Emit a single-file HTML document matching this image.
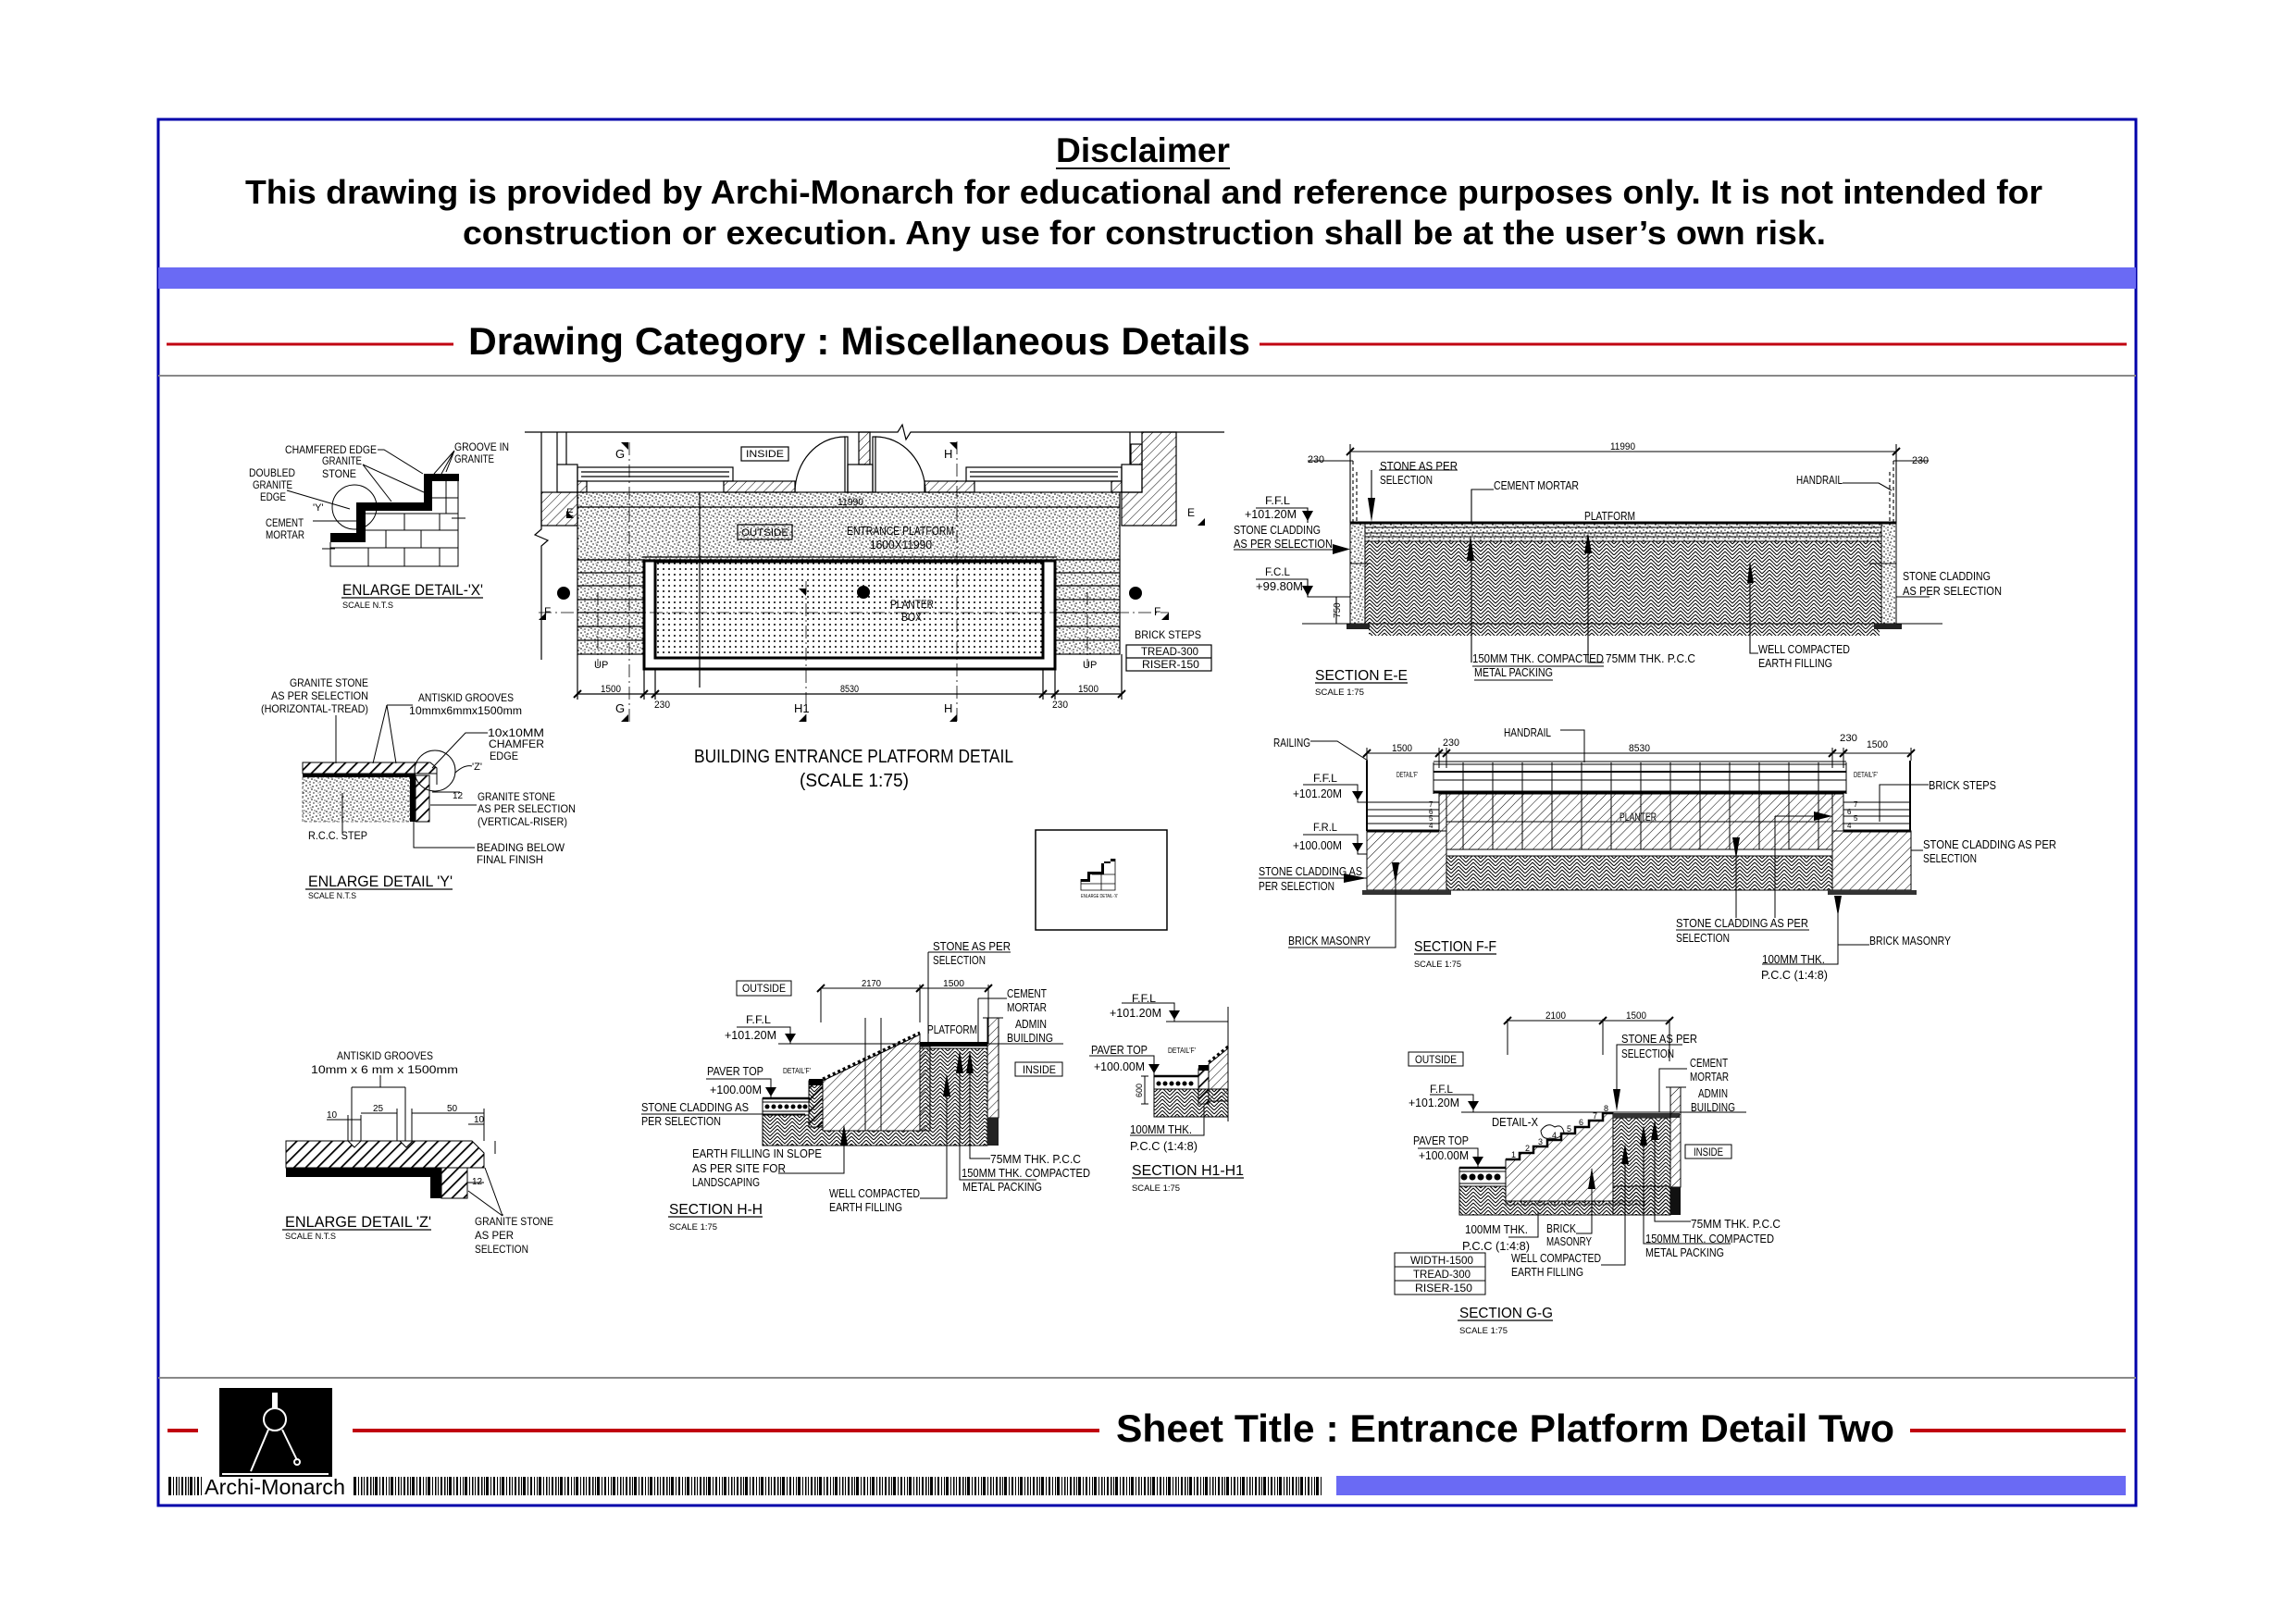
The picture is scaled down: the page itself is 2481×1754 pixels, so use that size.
<!DOCTYPE html>
<html><head><meta charset="utf-8"><style>
html,body{margin:0;padding:0;background:#fff;}
svg{display:block}
text{font-family:"Liberation Sans",Arial,sans-serif;fill:#000}
</style></head><body>
<svg width="2481" height="1754" viewBox="0 0 2481 1754" xmlns="http://www.w3.org/2000/svg">
<defs>
<pattern id="zz" width="16" height="8" patternUnits="userSpaceOnUse"><path d="M0 8L8 0M0 4L4 0M4 8L8 4M8 0L16 8M12 0L16 4M8 4L12 8" stroke="#000" stroke-width="1" fill="none"/></pattern>
<pattern id="dg" width="7" height="7" patternUnits="userSpaceOnUse" patternTransform="rotate(45)"><line x1="0" y1="0" x2="0" y2="7" stroke="#000" stroke-width="1"/></pattern>
<pattern id="dg2" width="9" height="9" patternUnits="userSpaceOnUse" patternTransform="rotate(45)"><line x1="0" y1="0" x2="0" y2="9" stroke="#000" stroke-width="3.5"/></pattern>
<pattern id="st" width="11" height="11" patternUnits="userSpaceOnUse"><g fill="#000"><circle cx="1" cy="2" r=".8"/><circle cx="5" cy="1" r=".7"/><circle cx="8" cy="3" r=".8"/><circle cx="3" cy="5" r=".7"/><circle cx="7" cy="6" r=".8"/><circle cx="10" cy="7" r=".6"/><circle cx="1" cy="8" r=".8"/><circle cx="5" cy="9" r=".7"/><circle cx="9" cy="10" r=".7"/><circle cx="3" cy="10" r=".5"/><circle cx="6" cy="4" r=".5"/></g></pattern>
<pattern id="dt" width="6" height="6" patternUnits="userSpaceOnUse"><circle cx="3" cy="3" r="1" fill="#000"/></pattern>
<pattern id="bc" width="40" height="20" patternUnits="userSpaceOnUse"><g fill="#000"><rect x="0" width="1.5" height="20"/><rect x="3" width="1" height="20"/><rect x="5" width="3" height="20"/><rect x="10" width="1" height="20"/><rect x="13" width="2" height="20"/><rect x="17" width="1" height="20"/><rect x="20" width="1" height="20"/><rect x="22" width="3" height="20"/><rect x="27" width="1" height="20"/><rect x="30" width="1.5" height="20"/><rect x="33" width="1" height="20"/><rect x="36" width="2" height="20"/></g></pattern>
</defs>

<!-- frame -->
<rect x="171" y="129" width="2137" height="1498" fill="none" stroke="#0000aa" stroke-width="3"/>
<text x="1141" y="175" font-size="37" font-weight="bold" textLength="188" lengthAdjust="spacingAndGlyphs">Disclaimer</text>
<line x1="1141" y1="182" x2="1329" y2="182" stroke="#000" stroke-width="2"/>
<text x="265" y="220" font-size="36" font-weight="bold" textLength="1942" lengthAdjust="spacingAndGlyphs">This drawing is provided by Archi-Monarch for educational and reference purposes only. It is not intended for</text>
<text x="500" y="264" font-size="36" font-weight="bold" textLength="1473" lengthAdjust="spacingAndGlyphs">construction or execution. Any use for construction shall be at the user’s own risk.</text>
<rect x="171" y="289" width="2137" height="23" fill="#6a6af4"/>
<line x1="180" y1="372" x2="490" y2="372" stroke="#c00010" stroke-width="3"/>
<line x1="1361" y1="372" x2="2298" y2="372" stroke="#c00010" stroke-width="3"/>
<text x="506" y="383" font-size="42" font-weight="bold" textLength="845" lengthAdjust="spacingAndGlyphs">Drawing Category : Miscellaneous Details</text>
<line x1="171" y1="406" x2="2308" y2="406" stroke="#888" stroke-width="2"/>
<line x1="171" y1="1489" x2="2308" y2="1489" stroke="#888" stroke-width="2"/>

<!-- footer -->
<line x1="181" y1="1546" x2="214" y2="1546" stroke="#c00010" stroke-width="4"/>
<line x1="381" y1="1546" x2="1188" y2="1546" stroke="#c00010" stroke-width="4"/>
<line x1="2064" y1="1546" x2="2297" y2="1546" stroke="#c00010" stroke-width="4"/>
<text x="1206" y="1558" font-size="42" font-weight="bold" textLength="841" lengthAdjust="spacingAndGlyphs">Sheet Title : Entrance Platform Detail Two</text>
<rect x="237" y="1500" width="122" height="96" fill="#000"/>
<g stroke="#fff" fill="none" stroke-width="2">
<line x1="297" y1="1505" x2="297" y2="1522" stroke-width="6"/>
<circle cx="297" cy="1534" r="12"/>
<path d="M290 1545L271 1590M305 1545L321 1578"/>
<circle cx="321" cy="1580" r="3"/>
<line x1="240" y1="1593" x2="355" y2="1593"/>
</g>
<rect x="182" y="1596" width="36" height="20" fill="url(#bc)"/>
<text x="221" y="1615" font-size="23" textLength="152" lengthAdjust="spacingAndGlyphs">Archi-Monarch</text>
<rect x="382" y="1596" width="1048" height="20" fill="url(#bc)"/>
<rect x="1444" y="1595" width="853" height="21" fill="#6a6af4"/>

<!-- ============ DETAIL X ============ -->
<g fill="none" stroke="#000" stroke-width="1">
<path d="M357 586V612H495V512"/>
<path d="M395 555H495M395 573H495M357 592H495M467 538H495"/>
<path d="M437 555V573M475 555V573M417 573V592M455 573V592M398 592V612M437 592V612M475 592V612M482 520V538M482 538V555"/>
<path d="M348 593H362M488 560H503"/>
<circle cx="383" cy="548" r="24"/>
<path d="M408 486H415L457 512M392 502L423 542M392 502L458 532M491 487L469 512M491 487L477 512M491 487L482 510M310 530L378 550M338 563H385"/>
</g>
<path d="M357 576H385V543H458V512H496V520H467V552H395V586H357Z" fill="#000"/>
<text x="308" y="490" font-size="12" textLength="99" lengthAdjust="spacingAndGlyphs">CHAMFERED EDGE</text>
<text x="348" y="502" font-size="12" textLength="43" lengthAdjust="spacingAndGlyphs">GRANITE</text>
<text x="348" y="516" font-size="12" textLength="37" lengthAdjust="spacingAndGlyphs">STONE</text>
<text x="491" y="487" font-size="12" textLength="59" lengthAdjust="spacingAndGlyphs">GROOVE IN</text>
<text x="491" y="500" font-size="12" textLength="43" lengthAdjust="spacingAndGlyphs">GRANITE</text>
<text x="269" y="515" font-size="12" textLength="50" lengthAdjust="spacingAndGlyphs">DOUBLED</text>
<text x="273" y="528" font-size="12" textLength="43" lengthAdjust="spacingAndGlyphs">GRANITE</text>
<text x="281" y="541" font-size="12" textLength="28" lengthAdjust="spacingAndGlyphs">EDGE</text>
<text x="338" y="552" font-size="11">'Y'</text>
<text x="287" y="569" font-size="12" textLength="41" lengthAdjust="spacingAndGlyphs">CEMENT</text>
<text x="287" y="582" font-size="12" textLength="42" lengthAdjust="spacingAndGlyphs">MORTAR</text>
<text x="370" y="643" font-size="17" textLength="152" lengthAdjust="spacingAndGlyphs">ENLARGE DETAIL-'X'</text>
<line x1="369" y1="646" x2="522" y2="646" stroke="#000" stroke-width="1.3"/>
<text x="370" y="657" font-size="9" textLength="55" lengthAdjust="spacingAndGlyphs">SCALE N.T.S</text>

<!-- ============ DETAIL Y ============ -->
<path d="M327 824H465L472 830V836H327Z" fill="url(#dg2)" stroke="#000"/>
<rect x="327" y="840" width="116" height="48" fill="url(#st)" stroke="#000" stroke-width=".6" stroke-dasharray="3 2"/>
<rect x="327" y="836" width="122" height="4" fill="#000"/>
<rect x="443" y="836" width="6" height="52" fill="#000"/>
<rect x="449" y="838" width="15" height="50" fill="url(#dg2)" stroke="#000"/>
<g fill="none" stroke="#000" stroke-width="1">
<circle cx="470" cy="833" r="22"/>
<path d="M492 835Q502 826 510 828"/>
<path d="M363 773V825M418 762L403 825M418 762L428 825M418 762H446M527 792H503L467 830M515 870H465M513 916H447V888M370 857V900M467 856H497M472 836V848"/>
</g>
<text x="313" y="742" font-size="12" textLength="85" lengthAdjust="spacingAndGlyphs">GRANITE STONE</text>
<text x="293" y="756" font-size="12" textLength="105" lengthAdjust="spacingAndGlyphs">AS PER SELECTION</text>
<text x="282" y="770" font-size="12" textLength="116" lengthAdjust="spacingAndGlyphs">(HORIZONTAL-TREAD)</text>
<text x="452" y="758" font-size="12" textLength="103" lengthAdjust="spacingAndGlyphs">ANTISKID GROOVES</text>
<text x="442" y="772" font-size="12" textLength="122" lengthAdjust="spacingAndGlyphs">10mmx6mmx1500mm</text>
<text x="527" y="796" font-size="12" textLength="61" lengthAdjust="spacingAndGlyphs">10x10MM</text>
<text x="528" y="808" font-size="12" textLength="60" lengthAdjust="spacingAndGlyphs">CHAMFER</text>
<text x="529" y="821" font-size="12" textLength="31" lengthAdjust="spacingAndGlyphs">EDGE</text>
<text x="510" y="832" font-size="11">'Z'</text>
<text x="489" y="863" font-size="10">12</text>
<text x="516" y="865" font-size="12" textLength="84" lengthAdjust="spacingAndGlyphs">GRANITE STONE</text>
<text x="516" y="878" font-size="12" textLength="106" lengthAdjust="spacingAndGlyphs">AS PER SELECTION</text>
<text x="516" y="892" font-size="12" textLength="97" lengthAdjust="spacingAndGlyphs">(VERTICAL-RISER)</text>
<text x="333" y="907" font-size="12" textLength="64" lengthAdjust="spacingAndGlyphs">R.C.C. STEP</text>
<text x="515" y="920" font-size="12" textLength="95" lengthAdjust="spacingAndGlyphs">BEADING BELOW</text>
<text x="515" y="933" font-size="12" textLength="72" lengthAdjust="spacingAndGlyphs">FINAL FINISH</text>
<text x="333" y="958" font-size="17" textLength="156" lengthAdjust="spacingAndGlyphs">ENLARGE DETAIL 'Y'</text>
<line x1="330" y1="961" x2="489" y2="961" stroke="#000" stroke-width="1.3"/>
<text x="333" y="971" font-size="9" textLength="52" lengthAdjust="spacingAndGlyphs">SCALE N.T.S</text>

<!-- ============ DETAIL Z ============ -->
<path d="M309 1233H510L523 1246V1262H309Z" fill="url(#dg2)" stroke="#000"/>
<rect x="309" y="1262" width="168" height="10" fill="#000"/>
<rect x="465" y="1262" width="12" height="33" fill="#000"/>
<rect x="477" y="1262" width="28" height="33" fill="url(#dg2)" stroke="#000"/>
<path d="M376 1233L383 1240L390 1233ZM432 1233L439 1240L446 1233Z" fill="#fff" stroke="#000"/>
<g fill="none" stroke="#000" stroke-width="1">
<path d="M411 1162V1175M380 1175H438M380 1175V1233M438 1175V1233"/>
<path d="M390 1203H429M445 1203H523M353 1210H390M376 1205V1233M390 1205V1233M429 1198V1233M445 1198V1233M523 1198V1233"/>
<path d="M506 1215H523M535 1233V1247M505 1262V1295M505 1278H523M543 1314L524 1262M543 1314L506 1287M543 1314V1312"/>
</g>
<text x="364" y="1145" font-size="12" textLength="104" lengthAdjust="spacingAndGlyphs">ANTISKID GROOVES</text>
<text x="336" y="1160" font-size="12" textLength="159" lengthAdjust="spacingAndGlyphs">10mm x 6 mm x 1500mm</text>
<text x="403" y="1201" font-size="10">25</text>
<text x="483" y="1201" font-size="10">50</text>
<text x="353" y="1208" font-size="10">10</text>
<text x="512" y="1213" font-size="10">10</text>
<text x="510" y="1280" font-size="10">12</text>
<text x="308" y="1326" font-size="17" textLength="158" lengthAdjust="spacingAndGlyphs">ENLARGE DETAIL 'Z'</text>
<line x1="305" y1="1329" x2="466" y2="1329" stroke="#000" stroke-width="1.3"/>
<text x="308" y="1339" font-size="9" textLength="55" lengthAdjust="spacingAndGlyphs">SCALE N.T.S</text>
<text x="513" y="1324" font-size="12" textLength="85" lengthAdjust="spacingAndGlyphs">GRANITE STONE</text>
<text x="513" y="1339" font-size="12" textLength="42" lengthAdjust="spacingAndGlyphs">AS PER</text>
<text x="513" y="1354" font-size="12" textLength="58" lengthAdjust="spacingAndGlyphs">SELECTION</text>

<!-- ============ PLAN ============ -->
<g fill="none" stroke="#000" stroke-width="1.2">
<path d="M567 467H970L975 459L979 475L984 467H1323"/>
<path d="M585 467V572L578 578L592 584L585 590V713"/>
<path d="M602 467V502M612 467V502"/>
<rect x="602" y="502" width="22" height="30"/>
<rect x="585" y="532" width="39" height="36" fill="url(#dg)"/>
<rect x="624" y="505" width="168" height="15"/><path d="M628 510H788M628 515H788"/>
<rect x="624" y="520" width="10" height="12" fill="url(#dg)"/>
<rect x="782" y="520" width="77" height="12" fill="url(#dg)"/>
<rect x="999" y="520" width="54" height="12" fill="url(#dg)"/>
<rect x="1044" y="505" width="168" height="15"/><path d="M1048 510H1208M1048 515H1208"/>
<rect x="1201" y="520" width="11" height="12" fill="url(#dg)"/>
<rect x="913" y="472" width="3" height="60"/>
<path d="M859 532A54 60 0 0 1 913 472"/>
<rect x="928" y="467" width="12" height="35" fill="url(#dg)"/>
<rect x="916" y="502" width="27" height="30"/>
<rect x="943" y="472" width="3" height="60"/>
<path d="M946 472A54 60 0 0 1 1000 532"/>
<path d="M1221 467V502"/>
<rect x="1222" y="480" width="12" height="22" fill="url(#dg)"/>
<rect x="1212" y="502" width="22" height="30"/>
<path d="M1234 467H1271V568H1212V532H1234Z" fill="url(#dg)"/>
<rect x="624" y="532" width="586" height="73" fill="url(#st)"/>
<path d="M624 548H1210"/>
<rect x="624" y="605" width="72" height="102" fill="url(#st)"/>
<rect x="1140" y="605" width="70" height="102" fill="url(#st)"/>
<path d="M624 619H696M624 633H696M624 648H696M624 662H696M624 677H696M624 692H696M1140 619H1210M1140 633H1210M1140 648H1210M1140 662H1210M1140 677H1210M1140 692H1210"/>
<path d="M694 602H1142"/>
<rect x="696" y="606" width="444" height="117" stroke-width="3" fill="#fff"/>
<rect x="708" y="607" width="419" height="104" stroke-width="3" fill="url(#dt)"/>
<path d="M680 478V780M871 628V780M1034 477V780M582 662H1263M1175 640V720M646 640V720" stroke-dasharray="14 4 2 4" stroke-width=".8"/>
<path d="M756 532V743"/>
<path d="M624 750H1212M624 707V756M1212 707V756M696 723V756M708 723V756M1127 723V756M1140 723V756"/>
<path d="M620 754L628 746M692 754L700 746M704 754L712 746M1123 754L1131 746M1136 754L1144 746M1208 754L1216 746" stroke-width="2"/>
<rect x="801" y="483" width="51" height="15"/>
<rect x="797" y="567" width="59" height="16"/>
<rect x="1217" y="697" width="92" height="28"/><path d="M1217 711H1309"/>
</g>
<g fill="#000">
<circle cx="609" cy="641" r="7"/><circle cx="933" cy="640" r="7"/><circle cx="1227" cy="641" r="7"/>
<path d="M671 478H679V486ZM671 780L679 772V780ZM863 780L871 772V780ZM1026 478H1034V486ZM1026 780L1034 772V780ZM863 636L871 644V636ZM582 670L590 662V670ZM1255 670L1263 662V670ZM1294 568L1302 560V568ZM620 560L612 552V560Z"/>
</g>
<text x="806" y="494" font-size="11" textLength="41" lengthAdjust="spacingAndGlyphs">INSIDE</text>
<text x="801" y="579" font-size="11" textLength="51" lengthAdjust="spacingAndGlyphs">OUTSIDE</text>
<text x="915" y="578" font-size="13" textLength="116" lengthAdjust="spacingAndGlyphs">ENTRANCE PLATFORM</text>
<text x="940" y="593" font-size="13" textLength="67" lengthAdjust="spacingAndGlyphs">1600X11990</text>
<text x="905" y="546" font-size="11" textLength="28" lengthAdjust="spacingAndGlyphs">11990</text>
<text x="962" y="657" font-size="12" textLength="47" lengthAdjust="spacingAndGlyphs">PLANTER</text>
<text x="974" y="671" font-size="12" textLength="22" lengthAdjust="spacingAndGlyphs">BOX</text>
<text x="1226" y="690" font-size="12" textLength="72" lengthAdjust="spacingAndGlyphs">BRICK STEPS</text>
<text x="1233" y="708" font-size="12" textLength="62" lengthAdjust="spacingAndGlyphs">TREAD-300</text>
<text x="1234" y="722" font-size="12" textLength="62" lengthAdjust="spacingAndGlyphs">RISER-150</text>
<text x="642" y="722" font-size="11">UP</text>
<text x="1170" y="722" font-size="11">UP</text>
<text x="649" y="748" font-size="11" textLength="22" lengthAdjust="spacingAndGlyphs">1500</text>
<text x="908" y="748" font-size="11" textLength="20" lengthAdjust="spacingAndGlyphs">8530</text>
<text x="1165" y="748" font-size="11" textLength="22" lengthAdjust="spacingAndGlyphs">1500</text>
<text x="707" y="765" font-size="11" textLength="17" lengthAdjust="spacingAndGlyphs">230</text>
<text x="1137" y="765" font-size="11" textLength="17" lengthAdjust="spacingAndGlyphs">230</text>
<text x="665" y="770" font-size="13">G</text>
<text x="858" y="770" font-size="13">H1</text>
<text x="1020" y="770" font-size="13">H</text>
<text x="665" y="495" font-size="13">G</text>
<text x="1020" y="495" font-size="13">H</text>
<text x="588" y="665" font-size="12">F</text>
<text x="1247" y="665" font-size="12">F</text>
<text x="1283" y="558" font-size="12">E</text>
<text x="612" y="558" font-size="12">E</text>
<text x="750" y="824" font-size="20" textLength="345" lengthAdjust="spacingAndGlyphs">BUILDING ENTRANCE PLATFORM DETAIL</text>
<text x="864" y="850" font-size="20" textLength="118" lengthAdjust="spacingAndGlyphs">(SCALE 1:75)</text>

<!-- small box -->
<rect x="1119" y="897" width="142" height="108" fill="none" stroke="#000" stroke-width="1.5"/>
<g stroke="#000" fill="none" stroke-width=".8">
<path d="M1168 950V962H1205V928M1180 945H1205M1168 955H1205M1190 945V962"/>
</g>
<path d="M1168 950H1175V942H1190V933H1200V928H1205V931H1193V945H1178V953H1168Z" fill="#000"/>
<text x="1168" y="970" font-size="5" textLength="40" lengthAdjust="spacingAndGlyphs">ENLARGE DETAIL-'X'</text>

<!-- ============ SECTION E-E ============ -->
<rect x="1459" y="585" width="590" height="89" fill="url(#zz)" stroke="#000"/>
<rect x="1479" y="674" width="552" height="13" fill="url(#zz)"/>
<rect x="1459" y="565" width="590" height="20" fill="#fff"/>
<rect x="1459" y="565" width="590" height="20" fill="url(#st)" stroke="#000"/>
<rect x="1459" y="565" width="16" height="109" fill="#fff"/>
<rect x="1459" y="565" width="16" height="109" fill="url(#st)" stroke="#000"/>
<rect x="2033" y="565" width="16" height="109" fill="#fff"/>
<rect x="2033" y="565" width="16" height="109" fill="url(#st)" stroke="#000"/>
<rect x="1455" y="674" width="25" height="6" fill="#222"/>
<rect x="2025" y="674" width="30" height="6" fill="#222"/>
<g fill="none" stroke="#000" stroke-width="1.1">
<path d="M1459 565H2049" stroke-width="3"/>
<path d="M1475 570H2033M1475 576H2033M1475 580H2033M1459 609H1480M2020 609H2049"/>
<path d="M1407 674H1459M2049 674H2099"/>
<path d="M1459 488H2049M1459 480V565M2049 480V565M1413 498H1462M2046 498H2084"/>
<path d="M1455 492L1463 484M2045 492L2053 484" stroke-width="2"/>
<path d="M1462 498V565M1466 510V565M2046 498V565M2042 510V565" stroke-dasharray="4 3"/>
<path d="M1482 508V540M1490 508H1575"/>
<path d="M1614 529H1590V565"/>
<path d="M1991 522L2030 522L2044 530"/>
<path d="M1357 549H1413V565M1357 626H1413V645H1459M1333 594H1440M2049 645H2085"/>
<path d="M1590 606V716M1716 598V716H1733M1891 630V706H1900M1591 720H1733M1593 735H1678M1444 645V674"/>
</g>
<g fill="#000">
<path d="M1478 538H1486L1482 564ZM1407 552H1419L1413 563ZM1407 633H1419L1413 644ZM1440 588V599L1459 593.5ZM1585 606H1593L1589 578ZM1712 598H1720L1716 576ZM1888 630H1895L1891 606Z"/>
</g>
<text x="1413" y="500" font-size="11" textLength="18" lengthAdjust="spacingAndGlyphs">230</text>
<text x="1740" y="486" font-size="11" textLength="27" lengthAdjust="spacingAndGlyphs">11990</text>
<text x="2066" y="501" font-size="11" textLength="18" lengthAdjust="spacingAndGlyphs">230</text>
<text x="1491" y="508" font-size="13" textLength="84" lengthAdjust="spacingAndGlyphs">STONE AS PER</text>
<text x="1491" y="523" font-size="13" textLength="57" lengthAdjust="spacingAndGlyphs">SELECTION</text>
<text x="1614" y="529" font-size="13" textLength="92" lengthAdjust="spacingAndGlyphs">CEMENT MORTAR</text>
<text x="1941" y="523" font-size="13" textLength="50" lengthAdjust="spacingAndGlyphs">HANDRAIL</text>
<text x="1367" y="545" font-size="12" textLength="27" lengthAdjust="spacingAndGlyphs">F.F.L</text>
<text x="1345" y="560" font-size="13" textLength="56" lengthAdjust="spacingAndGlyphs">+101.20M</text>
<text x="1712" y="562" font-size="13" textLength="55" lengthAdjust="spacingAndGlyphs">PLATFORM</text>
<text x="1333" y="577" font-size="13" textLength="94" lengthAdjust="spacingAndGlyphs">STONE CLADDING</text>
<text x="1333" y="592" font-size="13" textLength="107" lengthAdjust="spacingAndGlyphs">AS PER SELECTION</text>
<text x="1367" y="622" font-size="12" textLength="27" lengthAdjust="spacingAndGlyphs">F.C.L</text>
<text x="1357" y="638" font-size="13" textLength="51" lengthAdjust="spacingAndGlyphs">+99.80M</text>
<text transform="translate(1448,668) rotate(-90)" font-size="10">750</text>
<text x="2056" y="627" font-size="13" textLength="95" lengthAdjust="spacingAndGlyphs">STONE CLADDING</text>
<text x="2056" y="643" font-size="13" textLength="107" lengthAdjust="spacingAndGlyphs">AS PER SELECTION</text>
<text x="1591" y="716" font-size="13" textLength="142" lengthAdjust="spacingAndGlyphs">150MM THK. COMPACTED</text>
<text x="1735" y="716" font-size="13" textLength="97" lengthAdjust="spacingAndGlyphs">75MM THK. P.C.C</text>
<text x="1593" y="731" font-size="13" textLength="85" lengthAdjust="spacingAndGlyphs">METAL PACKING</text>
<text x="1900" y="706" font-size="13" textLength="99" lengthAdjust="spacingAndGlyphs">WELL COMPACTED</text>
<text x="1900" y="721" font-size="13" textLength="80" lengthAdjust="spacingAndGlyphs">EARTH FILLING</text>
<text x="1421" y="735" font-size="16" textLength="100" lengthAdjust="spacingAndGlyphs">SECTION E-E</text>
<line x1="1421" y1="738" x2="1521" y2="738" stroke="#000" stroke-width="1.3"/>
<text x="1421" y="751" font-size="9" textLength="53" lengthAdjust="spacingAndGlyphs">SCALE 1:75</text>

<!-- ============ SECTION F-F ============ -->
<rect x="1477" y="898" width="86" height="64" fill="url(#dg)" stroke="#000"/>
<rect x="1555" y="858" width="8" height="40" fill="url(#dg)" stroke="#000"/>
<rect x="1563" y="858" width="417" height="60" fill="url(#dg)" stroke="#000"/>
<rect x="1563" y="918" width="417" height="7" fill="#fff" stroke="#000"/>
<rect x="1563" y="925" width="417" height="37" fill="url(#zz)" stroke="#000"/>
<rect x="1980" y="898" width="85" height="64" fill="url(#dg)" stroke="#000"/>
<rect x="1980" y="858" width="12" height="40" fill="url(#dg)" stroke="#000"/>
<rect x="1472" y="962" width="96" height="5" fill="#333"/>
<rect x="1975" y="962" width="96" height="5" fill="#333"/>
<g fill="none" stroke="#000" stroke-width="1">
<path d="M1581 858V918M1613 858V918M1645 858V918M1677 858V918M1709 858V918M1741 858V918M1773 858V918M1805 858V918M1837 858V918M1869 858V918M1901 858V918M1933 858V918M1965 858V918M1563 888H1980"/>
<path d="M1549 824V858M1581 824V858M1613 824V858M1645 824V858M1677 824V858M1709 824V858M1741 824V858M1773 824V858M1805 824V858M1837 824V858M1869 824V858M1901 824V858M1933 824V858M1965 824V858M1995 824V858"/>
<path d="M1549 823H1995M1549 826H1995M1549 843H1995"/>
<path d="M1549 834H1995" stroke-width="2"/>
<path d="M1549 856H1995" stroke-width="3"/>
<path d="M1477 867H1555M1477 875H1555M1477 882H1555M1477 890H1555M1992 867H2065M1992 875H2065M1992 882H2065M1992 890H2065"/>
<path d="M1477 898H1555M1992 898H2065" stroke-width="3"/>
<path d="M1477 822V898M2064 822V898" stroke-width="2"/>
<path d="M1477 814H2065M1477 808V822M1555 808V830M1563 808V830M1980 808V830M1992 808V830M2065 808V822"/>
<path d="M1473 818L1481 810M1551 818L1559 810M1559 818L1567 810M1976 818L1984 810M1988 818L1996 810M2061 818L2069 810" stroke-width="2"/>
<path d="M1408 848H1467V867H1555M1408 902H1467V923H1477M1360 949H1477"/>
<path d="M1392 1024H1508V932"/>
<path d="M1416 801H1445L1478 822M1686 789H1712V824"/>
<path d="M2084 848H2031V888"/>
<path d="M1876 905V992M1918 882V992M1918 882H1980M1811 1005H1955"/>
<path d="M1986 968V1042H1904M1986 1021H2020M2065 919H2078"/>
</g>
<g fill="#000">
<path d="M1461 855H1473L1467 865ZM1461 911H1473L1467 921ZM1452 944V954L1477 949ZM1504 932H1512L1508 955ZM1872 905H1880L1876 928ZM1960 877V887L1980 882ZM1982 968H1990L1986 990Z"/>
</g>
<text x="1376" y="807" font-size="13" textLength="40" lengthAdjust="spacingAndGlyphs">RAILING</text>
<text x="1625" y="796" font-size="13" textLength="51" lengthAdjust="spacingAndGlyphs">HANDRAIL</text>
<text x="1504" y="812" font-size="11" textLength="22" lengthAdjust="spacingAndGlyphs">1500</text>
<text x="1559" y="806" font-size="11" textLength="18" lengthAdjust="spacingAndGlyphs">230</text>
<text x="1760" y="812" font-size="11" textLength="23" lengthAdjust="spacingAndGlyphs">8530</text>
<text x="1988" y="801" font-size="11" textLength="19" lengthAdjust="spacingAndGlyphs">230</text>
<text x="2017" y="808" font-size="11" textLength="23" lengthAdjust="spacingAndGlyphs">1500</text>
<text x="1509" y="840" font-size="8" textLength="23" lengthAdjust="spacingAndGlyphs">DETAIL'F'</text>
<text x="2003" y="840" font-size="8" textLength="26" lengthAdjust="spacingAndGlyphs">DETAIL'F'</text>
<text x="1419" y="845" font-size="12" textLength="26" lengthAdjust="spacingAndGlyphs">F.F.L</text>
<text x="1397" y="862" font-size="13" textLength="53" lengthAdjust="spacingAndGlyphs">+101.20M</text>
<text x="1419" y="898" font-size="12" textLength="26" lengthAdjust="spacingAndGlyphs">F.R.L</text>
<text x="1397" y="918" font-size="13" textLength="53" lengthAdjust="spacingAndGlyphs">+100.00M</text>
<text x="1360" y="946" font-size="13" textLength="112" lengthAdjust="spacingAndGlyphs">STONE CLADDING AS</text>
<text x="1360" y="962" font-size="13" textLength="82" lengthAdjust="spacingAndGlyphs">PER SELECTION</text>
<text x="1392" y="1021" font-size="13" textLength="89" lengthAdjust="spacingAndGlyphs">BRICK MASONRY</text>
<text x="1528" y="1028" font-size="16" textLength="89" lengthAdjust="spacingAndGlyphs">SECTION F-F</text>
<line x1="1528" y1="1031" x2="1617" y2="1031" stroke="#000" stroke-width="1.3"/>
<text x="1528" y="1045" font-size="9" textLength="51" lengthAdjust="spacingAndGlyphs">SCALE 1:75</text>
<text x="2084" y="853" font-size="13" textLength="73" lengthAdjust="spacingAndGlyphs">BRICK STEPS</text>
<text x="2078" y="917" font-size="13" textLength="144" lengthAdjust="spacingAndGlyphs">STONE CLADDING AS PER</text>
<text x="2078" y="932" font-size="13" textLength="58" lengthAdjust="spacingAndGlyphs">SELECTION</text>
<text x="1811" y="1002" font-size="13" textLength="143" lengthAdjust="spacingAndGlyphs">STONE CLADDING AS PER</text>
<text x="1811" y="1018" font-size="13" textLength="58" lengthAdjust="spacingAndGlyphs">SELECTION</text>
<text x="2020" y="1021" font-size="13" textLength="88" lengthAdjust="spacingAndGlyphs">BRICK MASONRY</text>
<text x="1904" y="1041" font-size="13" textLength="68" lengthAdjust="spacingAndGlyphs">100MM THK.</text>
<text x="1903" y="1058" font-size="13" textLength="72" lengthAdjust="spacingAndGlyphs">P.C.C (1:4:8)</text>
<text x="1750" y="887" font-size="12" textLength="40" lengthAdjust="spacingAndGlyphs">PLANTER</text>
<text x="1544" y="895" font-size="8">4</text><text x="1544" y="887" font-size="8">5</text><text x="1544" y="880" font-size="8">6</text><text x="1544" y="872" font-size="8">7</text>
<text x="1996" y="895" font-size="8">4</text><text x="2003" y="887" font-size="8">5</text><text x="1996" y="880" font-size="8">6</text><text x="2003" y="872" font-size="8">7</text>

<!-- ============ SECTION H-H ============ -->
<path d="M824 1205H874V1170L889 1168L994 1118V1133H1067V1238H824Z" fill="url(#zz)" stroke="#000"/>
<path d="M889 1168L994 1118V1222H889Z" fill="#fff"/>
<path d="M889 1168L994 1118V1222H889Z" fill="url(#dg)" stroke="#000"/>
<rect x="994" y="1131" width="11" height="91" fill="url(#dg)" stroke="#000"/>
<rect x="824" y="1187" width="50" height="18" fill="#fff" stroke="#000"/>
<rect x="874" y="1168" width="15" height="50" fill="url(#dg2)" stroke="#000"/>
<rect x="874" y="1166" width="15" height="7" fill="#000"/>
<rect x="994" y="1126" width="73" height="5" fill="#000"/>
<rect x="1067" y="1100" width="12" height="108" fill="url(#dg)" stroke="#000"/>
<rect x="1067" y="1208" width="12" height="30" fill="#222"/>
<g fill="none" stroke="#000" stroke-width="1">
<path d="M824 1187H874" stroke-width="2.5"/>
<path d="M824 1191H874M824 1201H874M935 1100V1222M952 1100V1222"/>
<path d="M889 1166L994 1116" stroke-width="3" stroke-dasharray="3 3"/>
<path d="M841 1128H1149M796 1110H854V1128M763 1166H833V1187"/>
<path d="M887 1068H1068M887 1068V1105M994 1064V1105M1068 1064V1128"/>
<path d="M883 1072L891 1064M990 1072L998 1064M1064 1072L1072 1064" stroke-width="2"/>
<path d="M1003 1029V1128M1003 1029H1092M1057 1079V1128M1057 1079H1088"/>
<path d="M693 1204H870M912 1222V1268H841M1023 1172V1295H994M1037 1138V1275H1120M1048 1138V1252H1070"/>
<path d="M1062 1100H1084"/>
</g>
<g fill="#000">
<circle cx="829" cy="1196" r="2.5"/><circle cx="836" cy="1196" r="2.5"/><circle cx="843" cy="1196" r="2.5"/><circle cx="850" cy="1196" r="2.5"/><circle cx="857" cy="1196" r="2.5"/><circle cx="864" cy="1196" r="2.5"/><circle cx="870" cy="1196" r="2.5"/>
<path d="M848 1117H860L854 1127ZM827 1175H839L833 1185ZM1033 1160H1041L1037 1135ZM1044 1160H1052L1048 1135ZM1019 1185H1027L1023 1160ZM908 1238H916L912 1215Z"/>
</g>
<rect x="796" y="1060" width="59" height="16" fill="none" stroke="#000"/>
<rect x="1097" y="1148" width="51" height="15" fill="none" stroke="#000"/>
<text x="1008" y="1027" font-size="13" textLength="84" lengthAdjust="spacingAndGlyphs">STONE AS PER</text>
<text x="1008" y="1042" font-size="13" textLength="57" lengthAdjust="spacingAndGlyphs">SELECTION</text>
<text x="802" y="1072" font-size="12" textLength="47" lengthAdjust="spacingAndGlyphs">OUTSIDE</text>
<text x="931" y="1066" font-size="10" textLength="21" lengthAdjust="spacingAndGlyphs">2170</text>
<text x="1019" y="1066" font-size="10" textLength="23" lengthAdjust="spacingAndGlyphs">1500</text>
<text x="1088" y="1078" font-size="13" textLength="43" lengthAdjust="spacingAndGlyphs">CEMENT</text>
<text x="1088" y="1093" font-size="13" textLength="43" lengthAdjust="spacingAndGlyphs">MORTAR</text>
<text x="1097" y="1111" font-size="13" textLength="34" lengthAdjust="spacingAndGlyphs">ADMIN</text>
<text x="1088" y="1126" font-size="13" textLength="50" lengthAdjust="spacingAndGlyphs">BUILDING</text>
<text x="806" y="1106" font-size="12" textLength="27" lengthAdjust="spacingAndGlyphs">F.F.L</text>
<text x="783" y="1123" font-size="13" textLength="56" lengthAdjust="spacingAndGlyphs">+101.20M</text>
<text x="1002" y="1117" font-size="13" textLength="54" lengthAdjust="spacingAndGlyphs">PLATFORM</text>
<text x="1105" y="1160" font-size="12" textLength="36" lengthAdjust="spacingAndGlyphs">INSIDE</text>
<text x="764" y="1162" font-size="13" textLength="61" lengthAdjust="spacingAndGlyphs">PAVER TOP</text>
<text x="767" y="1182" font-size="13" textLength="56" lengthAdjust="spacingAndGlyphs">+100.00M</text>
<text x="846" y="1160" font-size="8" textLength="30" lengthAdjust="spacingAndGlyphs">DETAIL'F'</text>
<text x="693" y="1201" font-size="13" textLength="116" lengthAdjust="spacingAndGlyphs">STONE CLADDING AS</text>
<text x="693" y="1216" font-size="13" textLength="86" lengthAdjust="spacingAndGlyphs">PER SELECTION</text>
<text x="748" y="1251" font-size="13" textLength="140" lengthAdjust="spacingAndGlyphs">EARTH FILLING IN SLOPE</text>
<text x="748" y="1267" font-size="13" textLength="101" lengthAdjust="spacingAndGlyphs">AS PER SITE FOR</text>
<text x="748" y="1282" font-size="13" textLength="73" lengthAdjust="spacingAndGlyphs">LANDSCAPING</text>
<text x="896" y="1294" font-size="13" textLength="98" lengthAdjust="spacingAndGlyphs">WELL COMPACTED</text>
<text x="896" y="1309" font-size="13" textLength="79" lengthAdjust="spacingAndGlyphs">EARTH FILLING</text>
<text x="1070" y="1257" font-size="13" textLength="98" lengthAdjust="spacingAndGlyphs">75MM THK. P.C.C</text>
<text x="1039" y="1272" font-size="13" textLength="139" lengthAdjust="spacingAndGlyphs">150MM THK. COMPACTED</text>
<text x="1040" y="1287" font-size="13" textLength="86" lengthAdjust="spacingAndGlyphs">METAL PACKING</text>
<text x="723" y="1312" font-size="16" textLength="101" lengthAdjust="spacingAndGlyphs">SECTION H-H</text>
<line x1="722" y1="1315" x2="824" y2="1315" stroke="#000" stroke-width="1.3"/>
<text x="723" y="1329" font-size="9" textLength="52" lengthAdjust="spacingAndGlyphs">SCALE 1:75</text>

<!-- ============ SECTION H1-H1 ============ -->
<rect x="1247" y="1177" width="80" height="30" fill="url(#zz)" stroke="#000"/>
<rect x="1247" y="1163" width="48" height="14" fill="#fff" stroke="#000"/>
<path d="M1306 1150L1327 1133V1190H1306Z" fill="url(#dg)" stroke="#000"/>
<rect x="1295" y="1155" width="11" height="38" fill="url(#dg2)" stroke="#000"/>
<rect x="1295" y="1151" width="11" height="6" fill="#000"/>
<g fill="none" stroke="#000" stroke-width="1">
<path d="M1247 1163H1295" stroke-width="2.5"/>
<path d="M1212 1084H1269V1104M1260 1104H1327M1327 1088V1212M1177 1141H1247V1163M1237 1163V1193M1233 1163H1241M1233 1193H1241M1221 1227H1301V1195"/>
<path d="M1306 1148L1327 1131" stroke-width="3" stroke-dasharray="3 3"/>
</g>
<g fill="#000">
<circle cx="1252" cy="1171" r="2.5"/><circle cx="1259" cy="1171" r="2.5"/><circle cx="1266" cy="1171" r="2.5"/><circle cx="1273" cy="1171" r="2.5"/><circle cx="1280" cy="1171" r="2.5"/><circle cx="1287" cy="1171" r="2.5"/>
<path d="M1263 1092H1275L1269 1102ZM1241 1150H1253L1247 1160Z"/>
</g>
<text x="1223" y="1083" font-size="12" textLength="26" lengthAdjust="spacingAndGlyphs">F.F.L</text>
<text x="1199" y="1099" font-size="13" textLength="56" lengthAdjust="spacingAndGlyphs">+101.20M</text>
<text x="1179" y="1139" font-size="13" textLength="61" lengthAdjust="spacingAndGlyphs">PAVER TOP</text>
<text x="1182" y="1157" font-size="13" textLength="55" lengthAdjust="spacingAndGlyphs">+100.00M</text>
<text x="1262" y="1138" font-size="8" textLength="30" lengthAdjust="spacingAndGlyphs">DETAIL'F'</text>
<text transform="translate(1234,1186) rotate(-90)" font-size="9">600</text>
<text x="1221" y="1225" font-size="13" textLength="67" lengthAdjust="spacingAndGlyphs">100MM THK.</text>
<text x="1221" y="1243" font-size="13" textLength="73" lengthAdjust="spacingAndGlyphs">P.C.C (1:4:8)</text>
<text x="1223" y="1270" font-size="16" textLength="121" lengthAdjust="spacingAndGlyphs">SECTION H1-H1</text>
<line x1="1223" y1="1273" x2="1344" y2="1273" stroke="#000" stroke-width="1.3"/>
<text x="1223" y="1287" font-size="9" textLength="52" lengthAdjust="spacingAndGlyphs">SCALE 1:75</text>

<!-- ============ SECTION G-G ============ -->
<rect x="1577" y="1282" width="228" height="31" fill="url(#zz)" stroke="#000"/>
<rect x="1743" y="1208" width="62" height="105" fill="url(#zz)" stroke="#000"/>
<path d="M1627 1298V1253H1642V1246H1657V1239H1672V1232H1687V1225H1702V1218H1717V1211H1732V1203H1743V1298Z" fill="#fff"/>
<path d="M1627 1298V1253H1642V1246H1657V1239H1672V1232H1687V1225H1702V1218H1717V1211H1732V1203H1743V1298Z" fill="url(#dg)" stroke="#000"/>
<path d="M1627 1253H1642V1246H1657V1239H1672V1232H1687V1225H1702V1218H1717V1211H1732V1203H1743" fill="none" stroke="#000" stroke-width="2.5"/>
<rect x="1627" y="1298" width="150" height="4" fill="url(#st)" stroke="#000" stroke-width=".6"/>
<rect x="1577" y="1262" width="50" height="20" fill="#fff" stroke="#000"/>
<rect x="1743" y="1203" width="72" height="5" fill="#333"/>
<rect x="1805" y="1175" width="11" height="108" fill="url(#dg)" stroke="#000"/>
<rect x="1805" y="1283" width="11" height="30" fill="#111"/>
<g fill="none" stroke="#000" stroke-width="1">
<path d="M1577 1262H1627" stroke-width="2.5"/>
<path d="M1577 1266H1627M1577 1279H1627"/>
<path d="M1629 1103H1804M1629 1101V1140M1732 1101V1140M1804 1101V1147"/>
<path d="M1625 1107L1633 1099M1728 1107L1736 1099M1800 1107L1808 1099" stroke-width="2"/>
<path d="M1579 1202H1887M1545 1183H1592V1202M1532 1241H1597V1262M1800 1175H1822"/>
<path d="M1747 1177V1129H1818M1793 1202V1155H1823M1788 1232V1320H1827M1776 1238V1344H1870M1756 1258V1367H1730M1720 1263V1333H1703M1662 1310V1337H1630"/>
<path d="M1665 1222Q1672 1212 1680 1218Q1688 1214 1690 1224Q1684 1232 1675 1230Q1666 1232 1665 1222Z"/>
</g>
<g fill="#000">
<circle cx="1582" cy="1272" r="3.5"/><circle cx="1591" cy="1272" r="3.5"/><circle cx="1600" cy="1272" r="3.5"/><circle cx="1609" cy="1272" r="3.5"/><circle cx="1618" cy="1272" r="3.5"/>
<path d="M1586 1190H1598L1592 1200ZM1591 1250H1603L1597 1260ZM1743 1177H1751L1747 1201ZM1752 1258H1760L1756 1236ZM1772 1238H1780L1776 1216ZM1784 1232H1792L1788 1210ZM1716 1285H1724L1720 1262Z"/>
</g>
<rect x="1522" y="1137" width="59" height="15" fill="none" stroke="#000"/>
<rect x="1821" y="1237" width="50" height="15" fill="none" stroke="#000"/>
<rect x="1507" y="1354" width="98" height="45" fill="none" stroke="#000"/>
<path d="M1507 1369H1605M1507 1384H1605" stroke="#000"/>
<text x="1670" y="1101" font-size="11" textLength="22" lengthAdjust="spacingAndGlyphs">2100</text>
<text x="1757" y="1101" font-size="11" textLength="22" lengthAdjust="spacingAndGlyphs">1500</text>
<text x="1529" y="1149" font-size="12" textLength="45" lengthAdjust="spacingAndGlyphs">OUTSIDE</text>
<text x="1752" y="1127" font-size="13" textLength="82" lengthAdjust="spacingAndGlyphs">STONE AS PER</text>
<text x="1752" y="1143" font-size="13" textLength="57" lengthAdjust="spacingAndGlyphs">SELECTION</text>
<text x="1826" y="1153" font-size="13" textLength="41" lengthAdjust="spacingAndGlyphs">CEMENT</text>
<text x="1826" y="1168" font-size="13" textLength="42" lengthAdjust="spacingAndGlyphs">MORTAR</text>
<text x="1835" y="1186" font-size="13" textLength="32" lengthAdjust="spacingAndGlyphs">ADMIN</text>
<text x="1827" y="1201" font-size="13" textLength="48" lengthAdjust="spacingAndGlyphs">BUILDING</text>
<text x="1545" y="1181" font-size="12" textLength="25" lengthAdjust="spacingAndGlyphs">F.F.L</text>
<text x="1522" y="1196" font-size="13" textLength="55" lengthAdjust="spacingAndGlyphs">+101.20M</text>
<text x="1612" y="1217" font-size="13" textLength="50" lengthAdjust="spacingAndGlyphs">DETAIL-X</text>
<text x="1527" y="1237" font-size="13" textLength="60" lengthAdjust="spacingAndGlyphs">PAVER TOP</text>
<text x="1533" y="1253" font-size="13" textLength="54" lengthAdjust="spacingAndGlyphs">+100.00M</text>
<text x="1830" y="1249" font-size="12" textLength="32" lengthAdjust="spacingAndGlyphs">INSIDE</text>
<text x="1827" y="1327" font-size="13" textLength="97" lengthAdjust="spacingAndGlyphs">75MM THK. P.C.C</text>
<text x="1778" y="1343" font-size="13" textLength="139" lengthAdjust="spacingAndGlyphs">150MM THK. COMPACTED</text>
<text x="1778" y="1358" font-size="13" textLength="85" lengthAdjust="spacingAndGlyphs">METAL PACKING</text>
<text x="1583" y="1333" font-size="13" textLength="68" lengthAdjust="spacingAndGlyphs">100MM THK.</text>
<text x="1580" y="1351" font-size="13" textLength="73" lengthAdjust="spacingAndGlyphs">P.C.C (1:4:8)</text>
<text x="1671" y="1332" font-size="13" textLength="32" lengthAdjust="spacingAndGlyphs">BRICK</text>
<text x="1671" y="1346" font-size="13" textLength="49" lengthAdjust="spacingAndGlyphs">MASONRY</text>
<text x="1633" y="1364" font-size="13" textLength="97" lengthAdjust="spacingAndGlyphs">WELL COMPACTED</text>
<text x="1633" y="1379" font-size="13" textLength="78" lengthAdjust="spacingAndGlyphs">EARTH FILLING</text>
<text x="1524" y="1366" font-size="12" textLength="68" lengthAdjust="spacingAndGlyphs">WIDTH-1500</text>
<text x="1527" y="1381" font-size="12" textLength="62" lengthAdjust="spacingAndGlyphs">TREAD-300</text>
<text x="1529" y="1396" font-size="12" textLength="62" lengthAdjust="spacingAndGlyphs">RISER-150</text>
<text x="1633" y="1251" font-size="9">1</text><text x="1648" y="1244" font-size="9">2</text><text x="1662" y="1237" font-size="9">3</text><text x="1677" y="1230" font-size="9">4</text><text x="1693" y="1223" font-size="9">5</text><text x="1706" y="1216" font-size="9">6</text><text x="1721" y="1209" font-size="9">7</text><text x="1733" y="1201" font-size="9">8</text>
<text x="1577" y="1424" font-size="16" textLength="101" lengthAdjust="spacingAndGlyphs">SECTION G-G</text>
<line x1="1575" y1="1427" x2="1678" y2="1427" stroke="#000" stroke-width="1.3"/>
<text x="1577" y="1441" font-size="9" textLength="52" lengthAdjust="spacingAndGlyphs">SCALE 1:75</text>
</svg>
</body></html>
